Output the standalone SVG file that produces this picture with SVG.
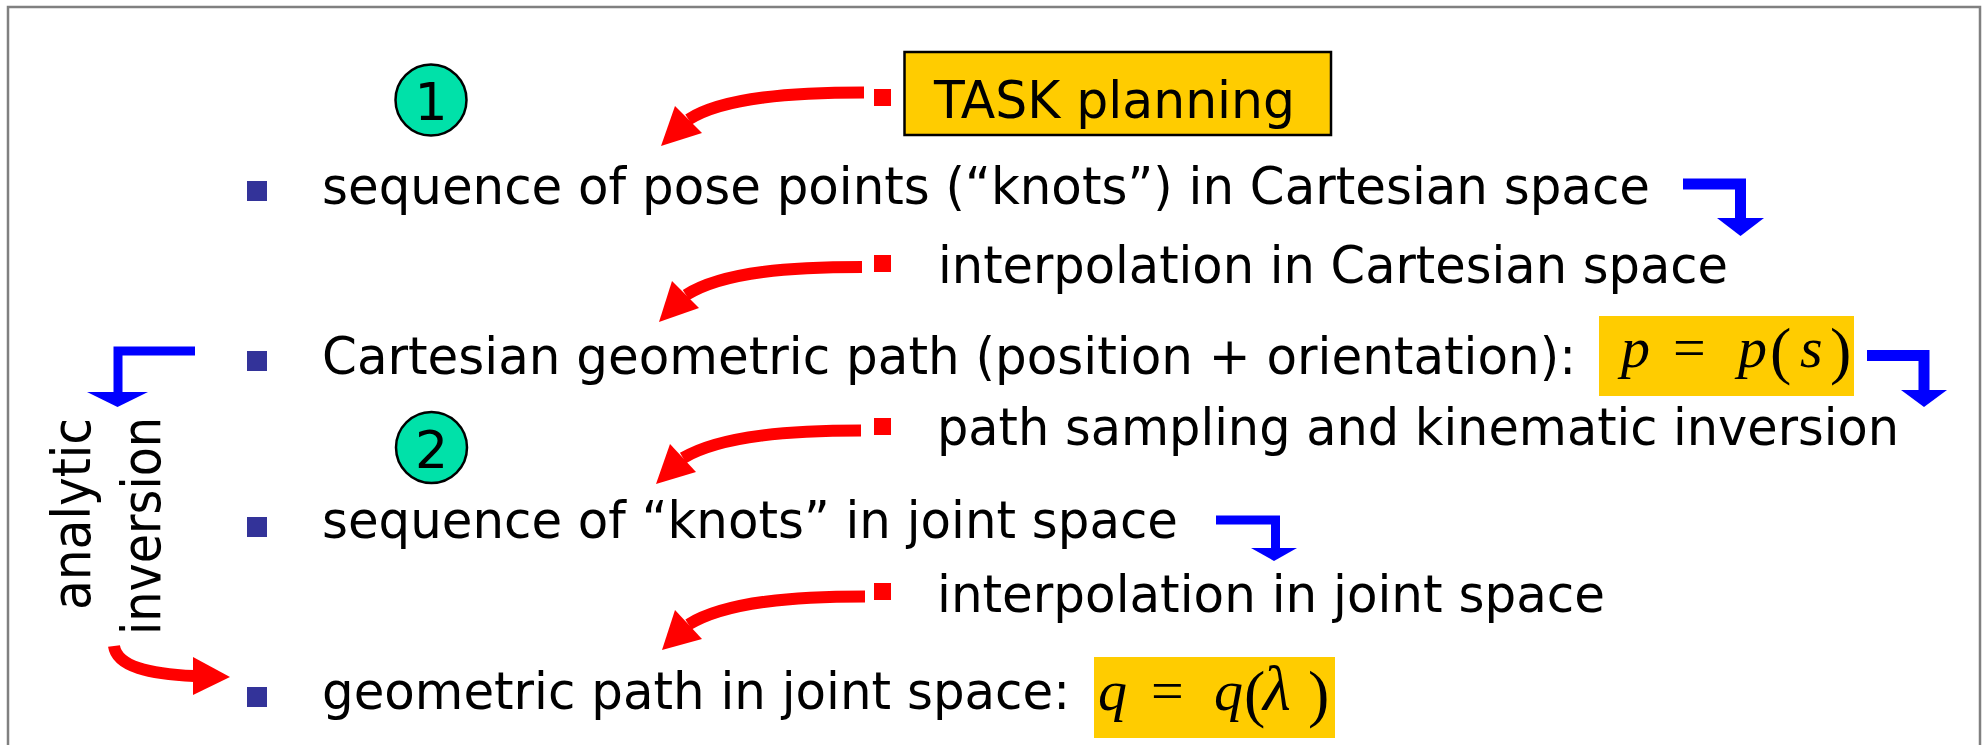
<svg xmlns="http://www.w3.org/2000/svg" width="1982" height="745" viewBox="0 0 1982 745">
<style>
.t{font-family:"DejaVu Sans",Verdana,sans-serif;font-size:51px;fill:#000}
.rt{font-family:"DejaVu Sans",Verdana,sans-serif;font-size:54px;fill:#000}
.n{font-family:"DejaVu Sans",Verdana,sans-serif;font-size:52px;fill:#000}
.m{font-family:"Liberation Serif","Times New Roman",serif;font-size:58px;font-style:italic;fill:#000}
.up{font-style:normal}
.par{font-style:normal;font-size:64px}
.bul{fill:#333399}
.rs{fill:#FF0000}
.rc{fill:none;stroke:#FF0000;stroke-width:12}
.rh{fill:#FF0000}
.bc{fill:none;stroke:#0000FF;stroke-linejoin:miter}
.bh{fill:#0000FF}
.circ{fill:#00E1A9;stroke:#000;stroke-width:2.5}
.ybox{fill:#FFCC00}
</style>
<rect width="1982" height="745" fill="#fff"/>
<path id="frame" d="M8 760 V7 H1980 V760" fill="none" stroke="#808080" stroke-width="2.5"/>

<g id="task">
<rect x="904.5" y="52" width="426.5" height="83" class="ybox" stroke="#000" stroke-width="2.5"/>
<text class="t" x="934" y="118" textLength="361" lengthAdjust="spacingAndGlyphs">TASK planning</text>
</g>

<g id="step1">
<circle cx="431" cy="100" r="35.5" class="circ"/>
<text class="n" x="431" y="120" text-anchor="middle">1</text>
</g>
<g id="step2">
<circle cx="431.5" cy="447.5" r="35.5" class="circ"/>
<text class="n" x="431.5" y="468" text-anchor="middle">2</text>
</g>

<g id="item1">
<rect x="247" y="181" width="20" height="20" class="bul"/>
<text class="t" x="322" y="204" textLength="1328" lengthAdjust="spacingAndGlyphs">sequence of pose points (“knots”) in Cartesian space</text>
</g>
<g id="op1">
<rect x="874" y="255" width="17" height="17" class="rs"/>
<text class="t" x="938" y="283" textLength="790" lengthAdjust="spacingAndGlyphs">interpolation in Cartesian space</text>
</g>
<g id="item2">
<rect x="247" y="351" width="20" height="20" class="bul"/>
<text class="t" x="322" y="374" textLength="1254" lengthAdjust="spacingAndGlyphs">Cartesian geometric path (position + orientation):</text>
</g>
<g id="mathP">
<rect x="1599" y="316" width="255" height="80" class="ybox"/>
<text class="m"><tspan x="1621" y="367">p</tspan><tspan class="up" x="1673" y="367">=</tspan><tspan x="1738" y="367">p</tspan><tspan class="par" x="1770" y="372">(</tspan><tspan x="1800" y="367">s</tspan><tspan class="par" x="1830" y="372">)</tspan></text>
</g>
<g id="op2">
<rect x="874" y="418" width="17" height="17" class="rs"/>
<text class="t" x="937" y="445" textLength="962" lengthAdjust="spacingAndGlyphs">path sampling and kinematic inversion</text>
</g>
<g id="item3">
<rect x="247" y="517" width="20" height="20" class="bul"/>
<text class="t" x="322" y="538" textLength="856" lengthAdjust="spacingAndGlyphs">sequence of “knots” in joint space</text>
</g>
<g id="op3">
<rect x="874" y="583" width="17" height="17" class="rs"/>
<text class="t" x="937" y="612" textLength="668" lengthAdjust="spacingAndGlyphs">interpolation in joint space</text>
</g>
<g id="item4">
<rect x="247" y="687" width="20" height="20" class="bul"/>
<text class="t" x="322" y="709" textLength="748" lengthAdjust="spacingAndGlyphs">geometric path in joint space:</text>
</g>
<g id="mathQ">
<rect x="1094" y="657" width="241" height="81" class="ybox"/>
<text class="m"><tspan x="1098" y="710">q</tspan><tspan class="up" x="1151" y="710">=</tspan><tspan x="1214" y="710">q</tspan><tspan class="par" x="1244" y="715">(</tspan><tspan x="1263" y="710" style="font-size:64px">λ</tspan><tspan class="par" x="1308" y="715">)</tspan></text>
</g>

<g id="analyticLabel">
<text class="rt" transform="translate(90,610) rotate(-90)" textLength="192" lengthAdjust="spacingAndGlyphs">analytic</text>
<text class="rt" transform="translate(160,635) rotate(-90)" textLength="218" lengthAdjust="spacingAndGlyphs">inversion</text>
</g>

<g id="connectors">
<rect x="874" y="89" width="17" height="17" class="rs"/>
<path class="rc" d="M864 92.5 C794 92.5 724 97 688.5 119.5"/>
<polygon class="rh" points="675,106 702,133 661,146"/>

<path class="rc" d="M862 267 C794 267 724 271 686 295"/>
<polygon class="rh" points="672,281 699,308 659,322"/>

<path class="rc" d="M861 430.5 C793 430.5 722 435 683 458"/>
<polygon class="rh" points="670,444 696,472 656,484"/>

<path class="rc" d="M865 596.5 C797 596.5 727 601 688.5 624.5"/>
<polygon class="rh" points="675,610 702,639 662,650"/>

<path class="rc" d="M114 646 C117 667 150 674 194 676"/>
<polygon class="rh" points="193,657 230,677 193,695"/>

<path class="bc" stroke-width="11" d="M1683 184 H1740.5 V219"/>
<polygon class="bh" points="1717,218 1764,218 1740.5,236"/>

<path class="bc" stroke-width="11" d="M1867 355.5 H1924 V391"/>
<polygon class="bh" points="1901,390 1947,390 1924,407"/>

<path class="bc" stroke-width="9" d="M1216 520 H1275.5 V549"/>
<polygon class="bh" points="1251,548 1297,548 1274,561"/>

<path class="bc" stroke-width="9" d="M195 351 H118 V393"/>
<polygon class="bh" points="87,392 148,392 117.5,407"/>
</g>
</svg>
